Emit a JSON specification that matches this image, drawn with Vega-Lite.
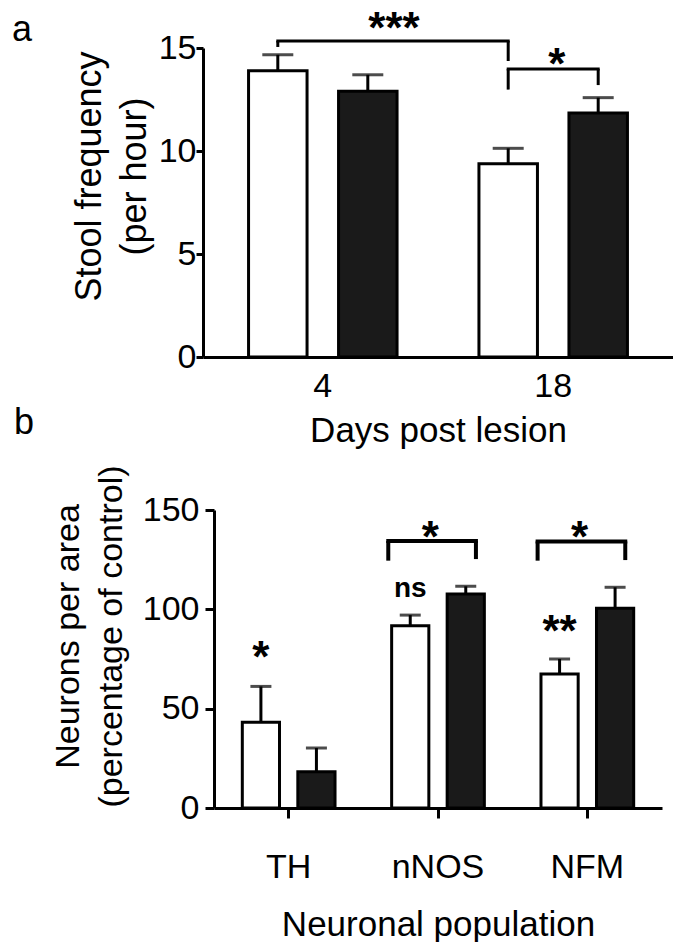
{
  "$schema": "https://vega.github.io/schema/vega-lite/v6.json",
  "padding": {"left": 12, "top": 7, "right": 0, "bottom": 0},
  "autosize": {"type": "pad"},
  "bounds": "flush",
  "center": true,
  "spacing": 153,
  "resolve": {"scale": {"xOffset": "independent", "color": "independent", "size": "independent"}},
  "config": {
    "font": "Liberation Sans",
    "view": {"stroke": null},
    "axis": {"domainColor": "black", "tickColor": "black", "labelColor": "black", "titleColor": "black", "grid": false, "domainWidth": 3, "tickWidth": 3, "labelFont": "Liberation Sans", "titleFont": "Liberation Sans", "titleFontWeight": "normal"},
    "text": {"font": "Liberation Sans"},
    "title": {"font": "Liberation Sans", "color": "black"}
  },
  "datasets": {
    "a_bars": [
      {"day": "4", "group": "white", "mean": 13.9, "upper": 14.67},
      {"day": "4", "group": "black", "mean": 12.9, "upper": 13.7},
      {"day": "18", "group": "white", "mean": 9.38, "upper": 10.13},
      {"day": "18", "group": "black", "mean": 11.84, "upper": 12.59}
    ],
    "a_legs": [
      {"day": "4", "group": "white", "top": 15.34, "end": 15.05},
      {"day": "18", "group": "white", "top": 15.34, "end": 14.37},
      {"day": "18", "group": "white", "top": 13.98, "end": 12.98},
      {"day": "18", "group": "black", "top": 13.98, "end": 13.2}
    ],
    "a_h": [
      {"id": 1, "day": "4", "group": "white", "top": 15.34},
      {"id": 1, "day": "18", "group": "white", "top": 15.34},
      {"id": 2, "day": "18", "group": "white", "top": 13.98},
      {"id": 2, "day": "18", "group": "black", "top": 13.98}
    ],
    "a_t1": [{"day": "4", "label": "***", "pos": 15.26}],
    "a_t2": [{"day": "18", "label": "*", "pos": 13.51}],
    "b_bars": [
      {"pop": "TH", "group": "white", "mean": 43.1, "upper": 61.2},
      {"pop": "TH", "group": "black", "mean": 18.3, "upper": 30.2},
      {"pop": "nNOS", "group": "white", "mean": 91.7, "upper": 97.1},
      {"pop": "nNOS", "group": "black", "mean": 107.7, "upper": 111.6},
      {"pop": "NFM", "group": "white", "mean": 67.4, "upper": 75.0},
      {"pop": "NFM", "group": "black", "mean": 100.5, "upper": 111.1}
    ],
    "b_brk": [
      {"pop": "nNOS", "top": 134.4, "endL": 124.5, "endR": 125.3},
      {"pop": "NFM", "top": 134.2, "endL": 124.5, "endR": 124.8}
    ],
    "b_star": [
      {"pop": "nNOS", "label": "*", "pos": 128.8},
      {"pop": "NFM", "label": "*", "pos": 128.8}
    ],
    "b_sig": [
      {"pop": "TH", "group": "white", "label": "*", "pos": 68.4, "size": "big"},
      {"pop": "nNOS", "group": "white", "label": "ns", "pos": 106.0, "size": "small"},
      {"pop": "NFM", "group": "white", "label": "**", "pos": 81.5, "size": "big"}
    ]
  },
  "vconcat": [
    {
      "width": 470,
      "height": 309,
      "title": {"text": "a", "anchor": "start", "frame": "group", "dx": -191, "offset": -69, "baseline": "alphabetic", "fontSize": 36, "fontWeight": "normal"},
      "layer": [
        {
          "data": {"name": "a_bars"},
          "mark": {"type": "bar", "stroke": "black", "strokeWidth": 3},
          "encoding": {
            "x": {"field": "day", "type": "nominal", "scale": {"domain": ["4", "18"], "paddingInner": 0, "paddingOuter": 0.02},
                  "axis": {"title": "Days post lesion", "ticks": false, "labelAngle": 0, "labelFontSize": 34, "labelPadding": 12, "titleFontSize": 35, "titlePadding": 10}},
            "xOffset": {"field": "group", "type": "nominal", "scale": {"domain": ["white", "black"], "paddingInner": 0.35, "paddingOuter": 0.455}},
            "y": {"field": "mean", "type": "quantitative", "scale": {"domain": [0, 15], "nice": false},
                  "axis": {"title": ["Stool frequency", "(per hour)"], "values": [0, 5, 10, 15], "tickSize": 7, "labelFontSize": 34, "labelPadding": 0, "titleFontSize": 36, "titleX": -103, "titleY": 128, "titleBaseline": "alphabetic", "titleAlign": "center", "titleAngle": -90, "titleLineHeight": 45}},
            "color": {"field": "group", "type": "nominal", "scale": {"domain": ["white", "black"], "range": ["#ffffff", "#1a1a1a"]}, "legend": null}
          }
        },
        {
          "data": {"name": "a_bars"},
          "mark": {"type": "rule", "color": "black", "strokeWidth": 3},
          "encoding": {
            "x": {"field": "day", "type": "nominal"},
            "xOffset": {"field": "group", "type": "nominal"},
            "y": {"field": "mean", "type": "quantitative"},
            "y2": {"field": "upper"}
          }
        },
        {
          "data": {"name": "a_bars"},
          "mark": {"type": "tick", "color": "black", "orient": "horizontal", "size": 31, "thickness": 3},
          "encoding": {
            "x": {"field": "day", "type": "nominal"},
            "xOffset": {"field": "group", "type": "nominal"},
            "y": {"field": "upper", "type": "quantitative"}
          }
        },
        {
          "data": {"name": "a_legs"},
          "mark": {"type": "rule", "color": "black", "strokeWidth": 3},
          "encoding": {
            "x": {"field": "day", "type": "nominal"},
            "xOffset": {"field": "group", "type": "nominal"},
            "y": {"field": "top", "type": "quantitative"},
            "y2": {"field": "end"}
          }
        },
        {
          "data": {"name": "a_h"},
          "mark": {"type": "line", "color": "black", "strokeWidth": 3, "strokeCap": "square"},
          "encoding": {
            "x": {"field": "day", "type": "nominal"},
            "xOffset": {"field": "group", "type": "nominal"},
            "y": {"field": "top", "type": "quantitative"},
            "detail": {"field": "id", "type": "nominal"}
          }
        },
        {
          "data": {"name": "a_t1"},
          "mark": {"type": "text", "fontSize": 44, "fontWeight": "bold", "color": "black", "baseline": "alphabetic"},
          "encoding": {
            "x": {"field": "day", "type": "nominal", "bandPosition": 0.809},
            "y": {"field": "pos", "type": "quantitative"},
            "text": {"field": "label"}
          }
        },
        {
          "data": {"name": "a_t2"},
          "mark": {"type": "text", "fontSize": 44, "fontWeight": "bold", "color": "black", "baseline": "alphabetic"},
          "encoding": {
            "x": {"field": "day", "type": "nominal", "bandPosition": 0.516},
            "y": {"field": "pos", "type": "quantitative"},
            "text": {"field": "label"}
          }
        }
      ]
    },
    {
      "width": 448,
      "height": 298,
      "title": {"text": "b", "anchor": "start", "frame": "group", "dx": -200, "offset": -5, "baseline": "alphabetic", "fontSize": 36, "fontWeight": "normal"},
      "layer": [
        {
          "data": {"name": "b_bars"},
          "mark": {"type": "bar", "stroke": "black", "strokeWidth": 3},
          "encoding": {
            "x": {"field": "pop", "type": "nominal", "scale": {"domain": ["TH", "nNOS", "NFM"], "paddingInner": 0, "paddingOuter": 0},
                  "axis": {"title": "Neuronal population", "ticks": true, "tickSize": 10, "labelAngle": 0, "labelFontSize": 34, "labelPadding": 32, "titleFontSize": 35, "titlePadding": 23}},
            "xOffset": {"field": "group", "type": "nominal", "scale": {"domain": ["white", "black"], "paddingInner": 0.33, "paddingOuter": 0.51}},
            "y": {"field": "mean", "type": "quantitative", "scale": {"domain": [0, 150], "nice": false},
                  "axis": {"title": ["Neurons per area", "(percentage of control)"], "values": [0, 50, 100, 150], "tickSize": 9, "labelFontSize": 34, "labelPadding": 6, "titleFontSize": 34, "titleX": -136, "titleY": 126, "titleBaseline": "alphabetic", "titleAlign": "center", "titleAngle": -90, "titleLineHeight": 43}},
            "color": {"field": "group", "type": "nominal", "scale": {"domain": ["white", "black"], "range": ["#ffffff", "#1a1a1a"]}, "legend": null}
          }
        },
        {
          "data": {"name": "b_bars"},
          "mark": {"type": "rule", "color": "black", "strokeWidth": 3},
          "encoding": {
            "x": {"field": "pop", "type": "nominal"},
            "xOffset": {"field": "group", "type": "nominal"},
            "y": {"field": "mean", "type": "quantitative"},
            "y2": {"field": "upper"}
          }
        },
        {
          "data": {"name": "b_bars"},
          "mark": {"type": "tick", "color": "black", "orient": "horizontal", "size": 21, "thickness": 3},
          "encoding": {
            "x": {"field": "pop", "type": "nominal"},
            "xOffset": {"field": "group", "type": "nominal"},
            "y": {"field": "upper", "type": "quantitative"}
          }
        },
        {
          "data": {"name": "b_brk"},
          "mark": {"type": "rule", "color": "black", "strokeWidth": 4, "strokeCap": "square"},
          "encoding": {
            "x": {"field": "pop", "type": "nominal", "bandPosition": 0.167},
            "x2": {"field": "pop", "bandPosition": 0.754},
            "y": {"field": "top", "type": "quantitative"}
          }
        },
        {
          "data": {"name": "b_brk"},
          "mark": {"type": "rule", "color": "black", "strokeWidth": 4},
          "encoding": {
            "x": {"field": "pop", "type": "nominal", "bandPosition": 0.167},
            "y": {"field": "top", "type": "quantitative"},
            "y2": {"field": "endL"}
          }
        },
        {
          "data": {"name": "b_brk"},
          "mark": {"type": "rule", "color": "black", "strokeWidth": 4},
          "encoding": {
            "x": {"field": "pop", "type": "nominal", "bandPosition": 0.754},
            "y": {"field": "top", "type": "quantitative"},
            "y2": {"field": "endR"}
          }
        },
        {
          "data": {"name": "b_star"},
          "mark": {"type": "text", "fontSize": 44, "fontWeight": "bold", "color": "black", "baseline": "alphabetic"},
          "encoding": {
            "x": {"field": "pop", "type": "nominal", "bandPosition": 0.448},
            "y": {"field": "pos", "type": "quantitative"},
            "text": {"field": "label"}
          }
        },
        {
          "data": {"name": "b_sig"},
          "mark": {"type": "text", "fontWeight": "bold", "color": "black", "baseline": "alphabetic"},
          "encoding": {
            "x": {"field": "pop", "type": "nominal"},
            "xOffset": {"field": "group", "type": "nominal"},
            "y": {"field": "pos", "type": "quantitative"},
            "text": {"field": "label"},
            "size": {"field": "size", "type": "nominal", "scale": {"domain": ["big", "small"], "range": [44, 28]}, "legend": null}
          }
        }
      ]
    }
  ]
}
